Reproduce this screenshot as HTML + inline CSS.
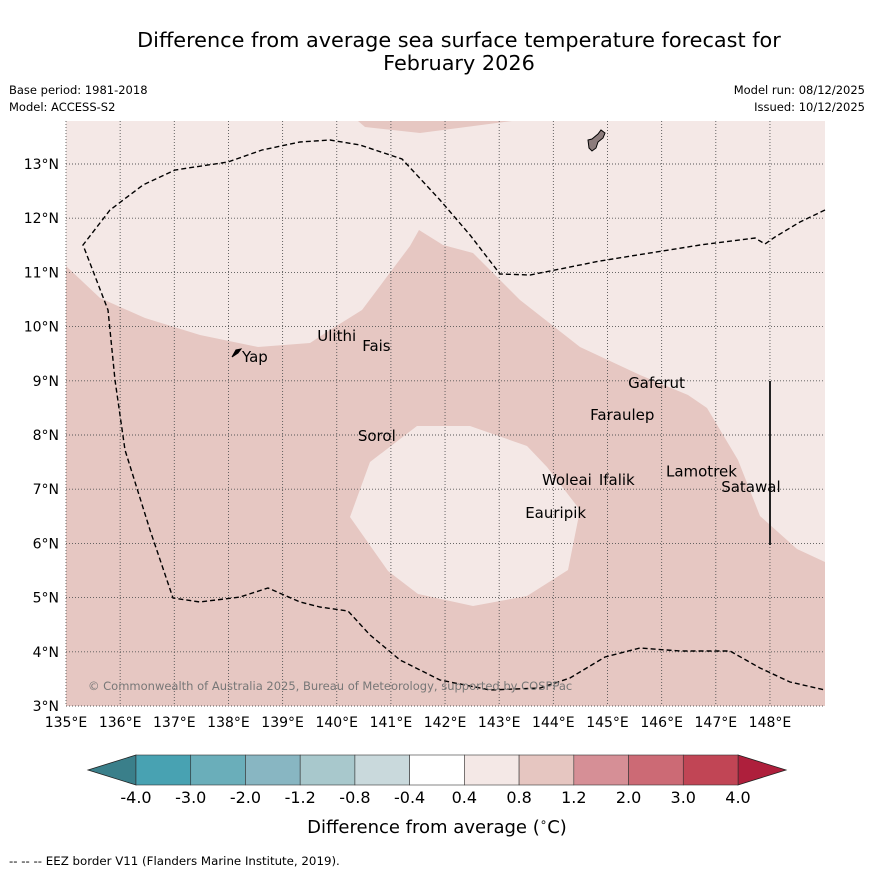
<!DOCTYPE html>
<html><head><meta charset="utf-8"><style>
body{margin:0;background:#fff;font-family:"Liberation Sans","DejaVu Sans",sans-serif}
svg{display:block}
</style></head><body>
<svg id="chart" width="873" height="873" xmlns="http://www.w3.org/2000/svg">
<text x="459" y="47" font-size="20.8" text-anchor="middle" font-family="DejaVu Sans">Difference from average sea surface temperature forecast for</text>
<text x="459" y="70" font-size="20.8" text-anchor="middle" font-family="DejaVu Sans">February 2026</text>
<text x="9" y="94" font-size="11.5" font-family="DejaVu Sans">Base period: 1981-2018</text>
<text x="9" y="111" font-size="11.5" font-family="DejaVu Sans">Model: ACCESS-S2</text>
<text x="865" y="94" font-size="11.5" text-anchor="end" font-family="DejaVu Sans">Model run: 08/12/2025</text>
<text x="865" y="111" font-size="11.5" text-anchor="end" font-family="DejaVu Sans">Issued: 10/12/2025</text>
<g id="map"></g>
<g id="cbar"></g>
<text x="437" y="833" font-size="18" text-anchor="middle" font-family="DejaVu Sans">Difference from average (<tspan font-size="12" dy="-7">∘</tspan><tspan dy="7">C)</tspan></text>
<text x="9" y="865" font-size="11.8" font-family="DejaVu Sans">--  --  -- EEZ border V11 (Flanders Marine Institute, 2019).</text>
</svg>
<script>
const lonTicks=[135,136,137,138,139,140,141,142,143,144,145,146,147,148];
const latTicks=[3,4,5,6,7,8,9,10,11,12,13];
const cbBounds=["-4.0","-3.0","-2.0","-1.2","-0.8","-0.4","0.4","0.8","1.2","2.0","3.0","4.0"];
const cbColors=["#48a2b2","#6aaeba","#88b6c2","#a8c8cc","#c9d9dc","#ffffff","#f4e8e6","#e6c6c1","#d68f96","#cc6a75","#c14555"];
const islands=[["Ulithi",139.64,9.73],["Fais",140.47,9.55],["Yap",138.25,9.35],["Gaferut",145.38,8.87],["Faraulep",144.68,8.28],["Sorol",140.39,7.89],["Woleai",143.79,7.08],["Ifalik",144.84,7.08],["Lamotrek",146.08,7.23],["Satawal",147.10,6.95],["Eauripik",143.48,6.47]];
const X0=66,X1=825,Y0=121,Y1=706,PX=54.15;
const lx=l=>X0+(l-135)*PX, ly=l=>706-(l-3)*54.2;
const NS="http://www.w3.org/2000/svg";
function mk(p,t,a){const e=document.createElementNS(NS,t);for(const k in a)e.setAttribute(k,a[k]);p.appendChild(e);return e;}
const map=document.getElementById('map');
const pp=a=>a.map(p=>p.join(',')).join(' ');
let e=mk(map,'rect',{x:X0,y:Y0,width:X1-X0,height:Y1-Y0,fill:'#f4e8e6'});

e=mk(map,'polygon',{fill:'#e6c7c2',points:pp([[66,266],[100,298],[145,318],[200,335],[258,347],[310,343],[330,330],[362,310],[410,246],[419,230],[443,245],[473,253],[520,300],[580,347],[640,375],[688,395],[707,408],[738,460],[760,516],[797,549],[825,562],[825,706],[66,706]])});

e=mk(map,'polygon',{fill:'#f4e8e6',points:pp([[417,426],[470,426],[527,446],[547,467],[580,510],[568,570],[527,596],[473,606],[418,594],[388,571],[350,517],[370,462]])});

e=mk(map,'polygon',{fill:'#e6c7c2',points:pp([[358,121],[365,127],[420,133],[512,121]])});

const g=mk(map,'g',{stroke:'#555',"stroke-width":0.9,"stroke-dasharray":"1,2"});
lonTicks.forEach(l=>{const el=mk(g,'line',{x1:lx(l),x2:lx(l),y1:Y0,y2:Y1});
 const t=mk(map,'text',{x:lx(l),y:727,"font-size":14,"text-anchor":"middle","font-family":"DejaVu Sans"});t.textContent=l+'°E';});
latTicks.forEach(l=>{const el=mk(g,'line',{x1:X0,x2:X1,y1:ly(l),y2:ly(l)});
 const t=mk(map,'text',{x:59,y:ly(l)+5,"font-size":14,"text-anchor":"end","font-family":"DejaVu Sans"});t.textContent=l+'°N';});
e=mk(map,'polyline',{fill:'none',stroke:'#000',"stroke-width":1.4,"stroke-dasharray":"5,3",points:pp([[825,210],[800,222],[775,237],[765,244],[755,238],[700,245],[600,261],[530,275],[500,274],[470,235],[440,200],[402,159],[360,145],[330,140],[300,142],[262,150],[228,162],[175,170],[143,185],[110,210],[83,245],[108,310],[115,380],[125,450],[150,530],[173,598],[200,602],[240,597],[268,588],[300,602],[320,607],[348,611],[370,635],[400,660],[440,680],[490,690],[540,688],[570,678],[605,657],[640,648],[680,651],[730,651],[760,668],[790,682],[825,690]])});

e=mk(map,'line',{x1:770,x2:770,y1:381,y2:545,stroke:'#222',"stroke-width":2});

e=mk(map,'path',{d:"M588,140 L592,139 L598,134 L601,130 L605,133 L603,138 L598,142 L596,148 L592,151 L589,148 Z",fill:'#8c7c7c',stroke:'#000',"stroke-width":1});

e=mk(map,'path',{d:"M232,357 L236,350 L241,349 L238,353 Z",fill:'#000',stroke:'#000'});

islands.forEach(d=>{const t=mk(map,'text',{x:lx(d[1]),y:ly(d[2]),"font-size":15,"font-family":"DejaVu Sans"});t.textContent=d[0];
 });
e=mk(map,'text',{x:88,y:690,"font-size":11.5,fill:'#777',"font-family":"DejaVu Sans"});e.textContent="© Commonwealth of Australia 2025, Bureau of Meteorology, supported by COSPPac";

const cb=document.getElementById('cbar');const cx0=136,cx1=738,cy=755,ch=30,w=(cx1-cx0)/cbColors.length;
e=mk(cb,'polygon',{points:pp([[cx0,cy],[88,cy+ch/2],[cx0,cy+ch]]),fill:'#3a7f8a',stroke:'#222',"stroke-width":0.8});

e=mk(cb,'polygon',{points:pp([[cx1,cy],[786,cy+ch/2],[cx1,cy+ch]]),fill:'#ae1f3c',stroke:'#222',"stroke-width":0.8});

cbColors.forEach((c,i)=>{const r=mk(cb,'rect',{x:cx0+i*w,y:cy,width:w,height:ch,fill:c,stroke:'#333',"stroke-width":0.6});
 });
cbBounds.forEach((b,i)=>{const t=mk(cb,'text',{x:cx0+i*w,y:803,"font-size":16,"text-anchor":"middle","font-family":"DejaVu Sans"});t.textContent=b;
 });
</script>
</body></html>
